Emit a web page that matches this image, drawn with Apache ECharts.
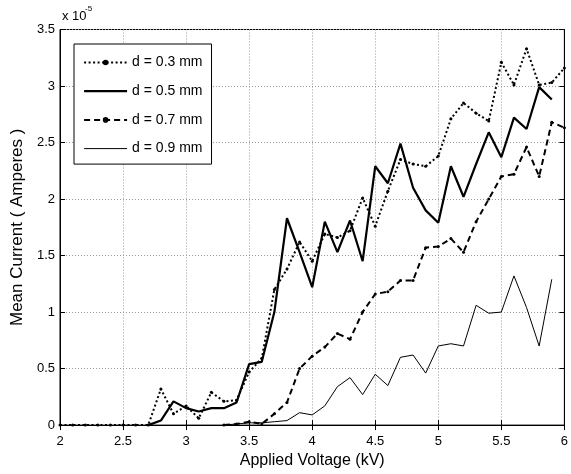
<!DOCTYPE html>
<html>
<head>
<meta charset="utf-8">
<script src="https://cdn.jsdelivr.net/npm/echarts@6/dist/echarts.min.js"></script>
<style>
  html, body { margin: 0; padding: 0; background: #fff; }
  #chart { width: 571px; height: 474px; }
</style>
</head>
<body>
<div id="chart"></div>
<script>
// Applied voltage (kV) for every measurement step
const voltage = [2.0, 2.1, 2.2, 2.3, 2.4, 2.5, 2.6, 2.7, 2.8, 2.9,
                 3.0, 3.1, 3.2, 3.3, 3.4, 3.5, 3.6, 3.7, 3.8, 3.9,
                 4.0, 4.1, 4.2, 4.3, 4.4, 4.5, 4.6, 4.7, 4.8, 4.9,
                 5.0, 5.1, 5.2, 5.3, 5.4, 5.5, 5.6, 5.7, 5.8, 5.9, 6.0];

// Mean current in units of 1e-5 A (null = not measured)
const current03 = [0, 0, 0, 0, 0, 0, 0, 0, 0.32, 0.10,
                   0.17, 0.06, 0.29, 0.21, 0.22, 0.47, 0.59, 1.20, 1.38, 1.62,
                   1.45, 1.69, 1.66, 1.72, 2.01, 1.76, 2.07, 2.35, 2.31, 2.29,
                   2.38, 2.71, 2.85, 2.76, 2.69, 3.21, 3.01, 3.33, 3.01, 3.03, 3.16];
const current05 = [null, null, null, null, null, null, null, 0, 0.04, 0.21,
                   0.15, 0.12, 0.15, 0.15, 0.20, 0.54, 0.56, 1.00, 1.83, 1.53,
                   1.22, 1.80, 1.53, 1.81, 1.45, 2.29, 2.14, 2.49, 2.10, 1.90,
                   1.79, 2.29, 2.02, 2.31, 2.59, 2.37, 2.72, 2.62, 2.99, 2.88, null];
const current07 = [null, null, null, null, null, null, null, null, null, null,
                   null, null, null, 0, 0.01, 0.03, 0.01, 0.10, 0.20, 0.50,
                   0.61, 0.69, 0.81, 0.76, 1.00, 1.16, 1.18, 1.28, 1.28, 1.57,
                   1.58, 1.65, 1.53, 1.80, 2.00, 2.20, 2.22, 2.46, 2.20, 2.68, 2.63];
const current09 = [null, null, null, null, null, null, null, null, null, null,
                   null, null, null, 0, 0.01, 0.02, 0.02, 0.03, 0.04, 0.11,
                   0.09, 0.17, 0.34, 0.42, 0.27, 0.45, 0.35, 0.60, 0.62, 0.46,
                   0.70, 0.72, 0.70, 1.06, 0.99, 1.00, 1.32, 1.04, 0.70, 1.29, null];

const seriesNames = ['d = 0.3 mm', 'd = 0.5 mm', 'd = 0.7 mm', 'd = 0.9 mm'];
const xTicks = { min: 2, max: 6, interval: 0.5 };
const yTicks = { min: 0, max: 3.5, interval: 0.5 };

const FONT = '"Liberation Sans", Arial, Helvetica, sans-serif';

function pairs(values) {
  const out = [];
  values.forEach((v, i) => { if (v !== null) out.push([voltage[i], v]); });
  return out;
}

// Line styles per diameter, shared by the plotted lines and their legend keys
const styles = [
  { width: 2, type: [2, 2.5], dot: true },
  { width: 2.2, type: 'solid', dot: false },
  { width: 2, type: [6, 4], dot: true },
  { width: 1, type: 'solid', dot: false }
];

const chart = echarts.init(document.getElementById('chart'), null, { renderer: 'canvas' });

const tickStyle = { show: true, inside: true, length: 5, lineStyle: { color: '#000', width: 1 } };
const gridLine = { show: true, lineStyle: { color: '#999', type: [1, 2], width: 1 } };

chart.setOption({
  animation: false,
  backgroundColor: '#fff',
  textStyle: { fontFamily: FONT, color: '#000' },
  grid: {
    left: 60, right: 5, top: 29.5, bottom: 47.5,
    show: true, borderColor: '#000', borderWidth: 1, backgroundColor: 'transparent'
  },
  legend: {
    orient: 'vertical',
    left: 74, top: 44,
    padding: [11.5, 9, 8.5, 9],
    itemWidth: 43, itemHeight: 7, itemGap: 14.7,
    backgroundColor: '#fff',
    borderColor: '#000', borderWidth: 1, borderRadius: 0,
    textStyle: { fontFamily: FONT, fontSize: 14, color: '#000' },
    data: seriesNames.map((name, i) => ({
      name: name,
      itemStyle: { color: '#000', opacity: styles[i].dot ? 1 : 0 },
      lineStyle: { color: '#000', width: styles[i].width, type: styles[i].type }
    }))
  },
  xAxis: [{
    type: 'value', position: 'bottom',
    min: xTicks.min, max: xTicks.max, interval: xTicks.interval,
    name: 'Applied Voltage (kV)', nameLocation: 'middle', nameGap: 26,
    nameTextStyle: { fontFamily: FONT, fontSize: 16, color: '#000' },
    axisLine: { show: true, lineStyle: { color: '#000', width: 1 } },
    axisTick: tickStyle,
    axisLabel: { fontFamily: FONT, fontSize: 13, color: '#000', margin: 10 },
    splitLine: gridLine
  }, {
    type: 'value', position: 'top',
    min: xTicks.min, max: xTicks.max, interval: xTicks.interval,
    axisLine: { show: true, lineStyle: { color: '#000', width: 1 } },
    axisTick: tickStyle,
    axisLabel: { show: false },
    splitLine: { show: false }
  }],
  yAxis: [{
    type: 'value', position: 'left',
    min: yTicks.min, max: yTicks.max, interval: yTicks.interval,
    name: 'Mean Current ( Amperes )', nameLocation: 'middle', nameGap: 32,
    nameTextStyle: { fontFamily: FONT, fontSize: 17, color: '#000' },
    axisLine: { show: true, lineStyle: { color: '#000', width: 1 } },
    axisTick: tickStyle,
    axisLabel: { fontFamily: FONT, fontSize: 13, color: '#000', margin: 5 },
    splitLine: gridLine
  }, {
    type: 'value', position: 'right',
    min: yTicks.min, max: yTicks.max, interval: yTicks.interval,
    axisLine: { show: true, lineStyle: { color: '#000', width: 1 } },
    axisTick: tickStyle,
    axisLabel: { show: false },
    splitLine: { show: false }
  }],
  graphic: [
    { type: 'text', left: 62, top: 10,
      style: { text: 'x 10', font: '13px ' + FONT, fill: '#000' } },
    { type: 'text', left: 85, top: 5,
      style: { text: '-5', font: '8px ' + FONT, fill: '#000' } }
  ],
  series: [current03, current05, current07, current09].map((values, i) => ({
    name: seriesNames[i], type: 'line', data: pairs(values),
    symbol: styles[i].dot ? 'circle' : 'none',
    symbolSize: 3, showAllSymbol: true,
    itemStyle: { color: '#000' },
    lineStyle: { color: '#000', width: styles[i].width, type: styles[i].type }
  }))
});
</script>
</body>
</html>
